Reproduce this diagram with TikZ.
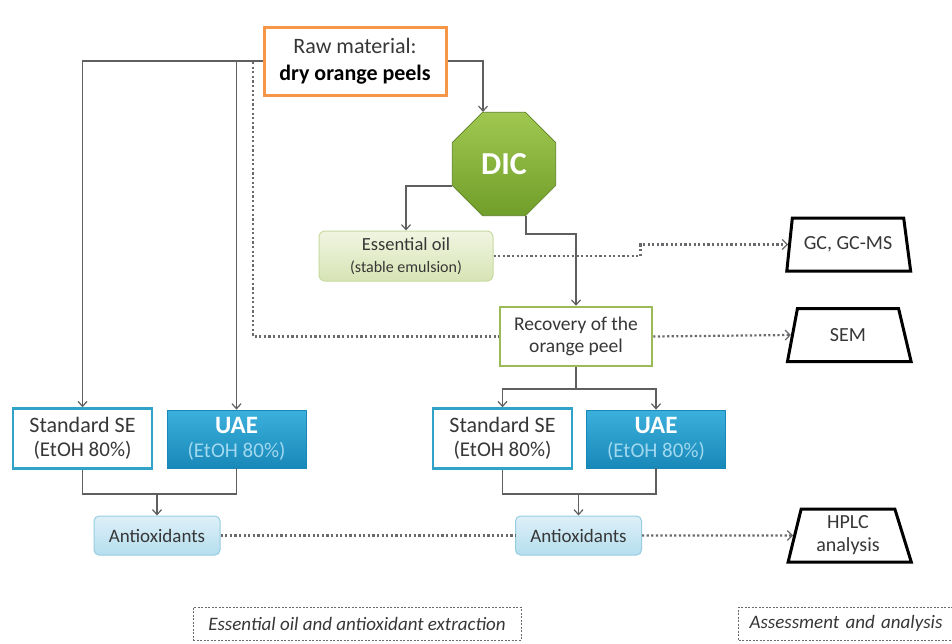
\documentclass[tikz,border=0pt]{standalone}
\usepackage{fontspec}
\setmainfont{Carlito}
\usetikzlibrary{shapes.geometric,arrows.meta,calc}
\definecolor{txt}{RGB}{55,55,55}
\definecolor{lnc}{RGB}{95,95,95}
\definecolor{dotcol}{RGB}{105,105,110}
\definecolor{orangeb}{RGB}{247,150,70}
\definecolor{oliveb}{RGB}{155,187,89}
\definecolor{tealb}{RGB}{49,163,200}
\definecolor{uaetop}{RGB}{60,176,220}
\definecolor{uaebot}{RGB}{24,136,184}
\definecolor{uaesub}{RGB}{160,216,238}
\definecolor{dictop}{RGB}{160,200,80}
\definecolor{dicbot}{RGB}{112,158,42}
\definecolor{eotop}{RGB}{240,245,225}
\definecolor{eobot}{RGB}{215,228,180}
\definecolor{eobrd}{RGB}{200,218,160}
\definecolor{aotop}{RGB}{222,240,248}
\definecolor{aobot}{RGB}{180,222,238}
\definecolor{aobrd}{RGB}{150,205,225}
\tikzset{
  conn/.style={draw=lnc, line width=1.6pt, -{Straight Barb[length=5pt,width=9pt,line width=1.2pt]}},
  plainln/.style={draw=lnc, line width=1.6pt},
  dotc/.style={draw=dotcol, line width=2.2pt, dash pattern=on 2.2pt off 2.4pt},
  dotarr/.style={dotc, -{Straight Barb[length=5pt,width=10pt,line width=1.2pt]}},
  rawbox/.style={draw=orangeb, line width=3pt, fill=white, minimum width=182pt, minimum height=68pt, align=center, text=txt, font=\fontsize{22}{27}\selectfont},
  sebox/.style={draw=tealb, line width=2.5pt, fill=white, minimum width=139pt, minimum height=60pt, align=center, text=txt, font=\fontsize{21}{24}\selectfont},
  uaebox/.style={draw=uaebot, line width=0.8pt, top color=uaetop, bottom color=uaebot, minimum width=139pt, minimum height=58pt, align=center, text=white, font=\fontsize{21}{24}\selectfont},
  aobox/.style={draw=aobrd, line width=1pt, rounded corners=5pt, top color=aotop, bottom color=aobot, minimum width=126pt, minimum height=39pt, text=txt, font=\fontsize{19}{22}\selectfont},
  recbox/.style={draw=oliveb, line width=2.5pt, fill=white, minimum width=152pt, minimum height=59pt, align=center, text=txt, font=\fontsize{19.5}{22}\selectfont},
  eobox/.style={draw=eobrd, line width=1pt, rounded corners=6pt, top color=eotop, bottom color=eobot, minimum width=174pt, minimum height=50pt, align=center, text=txt, font=\fontsize{18.5}{22}\selectfont},
  trap/.style={trapezium, trapezium left angle=78, trapezium right angle=75, trapezium stretches=true, draw=black, line width=3pt, fill=white, minimum width=124pt, minimum height=53pt, align=center, text=txt, font=\fontsize{20}{23}\selectfont},
  labbox/.style={draw=dotcol, line width=1pt, dash pattern=on 2pt off 1.5pt, text=txt, font=\fontsize{19}{22}\selectfont\itshape}
}
\begin{document}
\begin{tikzpicture}[x=1pt,y=-1pt]
\useasboundingbox (0,0) rectangle (952,643);
\clip (0,0) rectangle (952,643);
\fill[white] (0,0) rectangle (952,643);

% nodes
\node[rawbox] (raw) at (355,61) {Raw material:\\{\color{black}\bfseries dry orange peels}};
\node[regular polygon, regular polygon sides=8, minimum size=112pt, draw=dicbot!80!black, line width=0.6pt, top color=dictop, bottom color=dicbot, text=white, font=\fontsize{32}{36}\selectfont\bfseries] (dic) at (504,164) {DIC};
\node[eobox] (eo) at (406,256) {Essential oil\\{\fontsize{16}{22}\selectfont (stable emulsion)}};
\node[recbox] (rec) at (576,336.5) {Recovery of the\\orange peel};
\node[trap] (gc) at (848,244.5) {GC, GC-MS};
\node[trap] (sem) at (848,335) {SEM};
\node[trap] (hplc) at (848,535.5) {HPLC\\analysis};

\node[sebox] (sse1) at (82.5,438.5) {{\fontsize{22}{24}\selectfont Standard SE}\\(EtOH 80\%)};
\node[uaebox] (uae1) at (236.5,439) {{\fontsize{25}{24}\selectfont\bfseries UAE}\\{\color{uaesub}(EtOH 80\%)}};
\node[aobox] (ao1) at (157,535.5) {Antioxidants};

\node[sebox] (sse2) at (502.5,438.5) {{\fontsize{22}{24}\selectfont Standard SE}\\(EtOH 80\%)};
\node[uaebox] (uae2) at (656,439) {{\fontsize{25}{24}\selectfont\bfseries UAE}\\{\color{uaesub}(EtOH 80\%)}};
\node[aobox] (ao2) at (578.5,535.5) {Antioxidants};

\node[labbox, minimum width=328pt, minimum height=33pt] (lab1) at (357,623.5) {Essential oil and antioxidant extraction};
\node[labbox, minimum height=33pt, anchor=west, text width=214pt, inner xsep=11pt] (lab2) at (738,623.5) {Assessment and analysis};

\coordinate (dstart) at (253,62);

% connectors
\draw[conn] (raw.west) -| (sse1.north);
\draw[conn] (raw.west) -| (uae1.north);
\draw[conn] (raw.east) -| ([xshift=-21pt]dic.north);
\draw[dotc] (dstart) |- (rec.west);
\draw[conn] ([yshift=-22pt]dic.west) -| (eo.north);
\draw[conn] ([xshift=22pt]dic.south) -- ++(0,18) -| (rec.north);
\draw[dotarr] (eo.east) -- ++(147,0) |- (gc.west);
\draw[dotarr] (rec.east) -- (sem.west);
\draw[conn] (rec.south) -- ++(0,21.5) -| (sse2.north);
\draw[conn] (rec.south) -- ++(0,21.5) -| (uae2.north);

\draw[plainln] (sse1.south) -- ++(0,24) coordinate (j1) -| (uae1.south);
\draw[conn] (j1 -| ao1.north) -- (ao1.north);
\draw[plainln] (sse2.south) -- ++(0,24) coordinate (j2) -| (uae2.south);
\draw[conn] (j2 -| ao2.north) -- (ao2.north);

\draw[dotc] (ao1.east) -- (ao2.west);
\draw[dotarr] (ao2.east) -- (hplc.west);
\end{tikzpicture}
\end{document}
